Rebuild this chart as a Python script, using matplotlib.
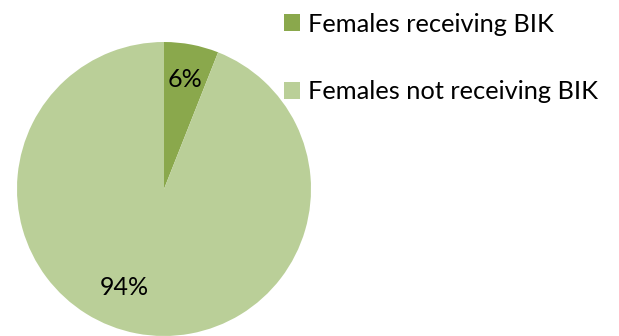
import matplotlib
matplotlib.use("Agg")
import matplotlib.pyplot as plt
from matplotlib.patches import Patch

labels = ["Females receiving BIK", "Females not receiving BIK"]
values = [6, 94]
colors = ["#8AA84C", "#BACF98"]

plt.rcParams["font.family"] = ["Lato", "DejaVu Sans"]

fig = plt.figure(figsize=(6.19, 3.36), dpi=100)
ax = fig.add_axes([0, 0, 1, 1])
ax.set_aspect("equal")

wedges, texts, autotexts = ax.pie(values, colors=colors, startangle=90, counterclock=False,
                                  radius=1.0, autopct="%.0f%%", pctdistance=0.76,
                                  textprops={"fontsize": 18, "color": "black"})
# Excel puts the big slice label further left
autotexts[1].set_position((-0.27, -0.67))

# map pixels: center (164,189), radius 147
r = 147.0
ax.set_xlim(-164 / r, (619 - 164) / r)
ax.set_ylim((189 - 336) / r, 189 / r)
ax.axis("off")

handles = [Patch(facecolor=c, edgecolor="none") for c in colors]
fig.legend(handles, labels, loc="upper left", bbox_to_anchor=(276 / 619, 1 - 5 / 336),
           frameon=False, fontsize=18.3, handlelength=0.65, handleheight=0.65,
           handletextpad=0.3, labelspacing=1.75, borderaxespad=0, borderpad=0.3)

fig.savefig("out.png", dpi=100)
